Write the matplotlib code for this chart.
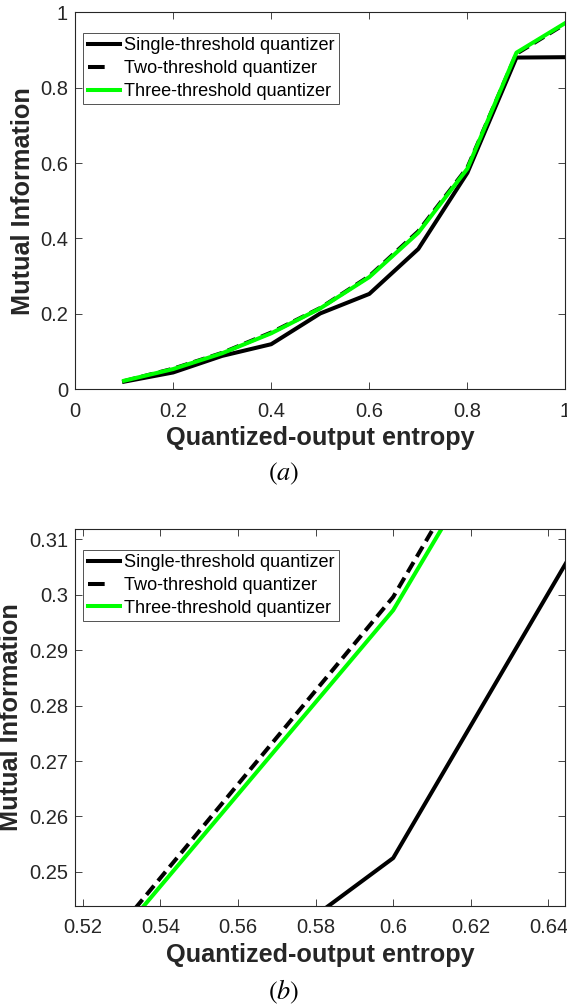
import matplotlib
matplotlib.use("Agg")
import matplotlib.pyplot as plt
from matplotlib.lines import Line2D

# Data
entropy = [0.1, 0.2, 0.3, 0.4, 0.5, 0.6, 0.7, 0.8, 0.9, 1.0]
mi_single = [0.0195, 0.044, 0.088, 0.119, 0.2007, 0.2525, 0.372, 0.574, 0.880, 0.881]
mi_two = [0.021, 0.054, 0.096, 0.150, 0.2151, 0.2996, 0.419, 0.588, 0.890, 0.970]
mi_three = [0.022, 0.053, 0.095, 0.148, 0.2142, 0.2972, 0.415, 0.585, 0.893, 0.972]

labels = ["Single-threshold quantizer", "Two-threshold quantizer", "Three-threshold quantizer"]

plt.rcParams['font.family'] = ['Liberation Sans', 'DejaVu Sans']
plt.rcParams['mathtext.fontset'] = 'stix'
plt.rcParams['lines.scale_dashes'] = False

axcol = '#262626'
green = '#00ff00'
lw = 2.9
fig = plt.figure(figsize=(5.67, 10.05), dpi=100)


def draw_panel(rect, xlim, ylim, xticks, yticks, caption, cap_y):
    ax = fig.add_axes(rect)
    ax.plot(entropy, mi_single, color='black', lw=lw)
    ax.plot(entropy, mi_two, color='black', lw=lw, dashes=(8.5, 4.5))
    ax.plot(entropy, mi_three, color=green, lw=lw)
    ax.set_xlim(*xlim)
    ax.set_ylim(*ylim)
    ax.set_xticks(xticks)
    ax.set_yticks(yticks)
    ax.set_xticklabels([f"{v:.2f}".rstrip('0').rstrip('.') for v in xticks])
    ax.set_yticklabels([f"{v:.2f}".rstrip('0').rstrip('.') for v in yticks])
    ax.tick_params(direction='in', length=5, width=0.6, top=True, right=True,
                   labelsize=14.5, colors=axcol)
    ax.tick_params(axis='x', pad=9)
    ax.tick_params(axis='y', pad=5)
    for s in ax.spines.values():
        s.set_color(axcol)
        s.set_linewidth(0.8)
    ax.set_xlabel('Quantized-output entropy', fontsize=18.2, fontweight='bold',
                  color=axcol, labelpad=4)
    ax.set_ylabel('Mutual Information', fontsize=18.2, fontweight='bold',
                  color=axcol, labelpad=4)
    # legend proxies (MATLAB shows a single dash for the dashed entry)
    handles = [Line2D([], [], color='black', lw=lw),
               Line2D([], [], color='black', lw=lw, dashes=(12, 30)),
               Line2D([], [], color=green, lw=lw)]
    leg = ax.legend(handles, labels, loc='upper left', bbox_to_anchor=(0.0173, 0.946),
                    fontsize=13.1, frameon=True, fancybox=False, handlelength=1.75,
                    handletextpad=0.25, labelspacing=0.32, borderpad=0.25,
                    borderaxespad=0)
    leg.get_frame().set_edgecolor(axcol)
    leg.get_frame().set_linewidth(0.7)
    fig.text(0.5, cap_y, caption, ha='center', va='center', fontsize=19)
    return ax


draw_panel([0.1323, 0.6129, 0.865, 0.3748], (0, 1), (0, 1),
           [0, 0.2, 0.4, 0.6, 0.8, 1.0], [0, 0.2, 0.4, 0.6, 0.8, 1.0],
           r'$(a)$', 1 - 474 / 1005)

draw_panel([0.1323, 0.0988, 0.865, 0.3745], (0.518, 0.6444), (0.2439, 0.3118),
           [0.52, 0.54, 0.56, 0.58, 0.6, 0.62, 0.64],
           [0.25, 0.26, 0.27, 0.28, 0.29, 0.3, 0.31],
           r'$(b)$', 1 - 992 / 1005)

fig.savefig('out.png', dpi=100)
